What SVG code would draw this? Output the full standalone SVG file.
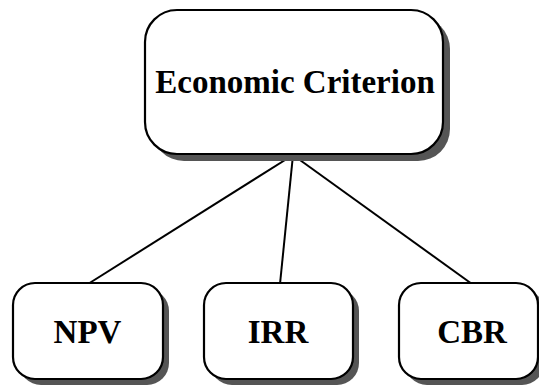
<svg xmlns="http://www.w3.org/2000/svg" width="539" height="385" viewBox="0 0 539 385">
  <style>
    .shadow { fill: #555555; stroke: none; }
    .box { fill: #ffffff; stroke: #000000; stroke-width: 2.2; }
    .label { font-family: "Liberation Serif", "Times New Roman", serif; font-weight: bold; font-size: 33px; fill: #000000; text-anchor: middle; }
    .link { stroke: #000000; stroke-width: 2; fill: none; }
  </style>
  <rect width="539" height="385" fill="#ffffff"/>

  <g id="connectors">
    <line class="link" x1="293" y1="155" x2="88" y2="284"/>
    <line class="link" x1="293" y1="155" x2="280" y2="284"/>
    <line class="link" x1="293" y1="155" x2="472" y2="284"/>
  </g>

  <g id="economic-criterion">
    <rect class="shadow" x="152" y="17" width="298" height="144" rx="32"/>
    <rect class="box" x="145" y="10" width="298" height="144" rx="32"/>
    <text class="label" x="295" y="93">Economic Criterion</text>
  </g>

  <g id="npv">
    <rect class="shadow" x="19" y="289" width="150" height="96" rx="22"/>
    <rect class="box" x="13" y="283" width="150" height="96" rx="22"/>
    <text class="label" x="87.5" y="343">NPV</text>
  </g>

  <g id="irr">
    <rect class="shadow" x="210" y="289" width="149" height="96" rx="22"/>
    <rect class="box" x="204" y="283" width="149" height="96" rx="22"/>
    <text class="label" x="278" y="343">IRR</text>
  </g>

  <g id="cbr">
    <rect class="shadow" x="405" y="289" width="139" height="96" rx="22"/>
    <rect class="box" x="399" y="283" width="139" height="96" rx="22"/>
    <text class="label" x="472" y="343">CBR</text>
  </g>
</svg>
